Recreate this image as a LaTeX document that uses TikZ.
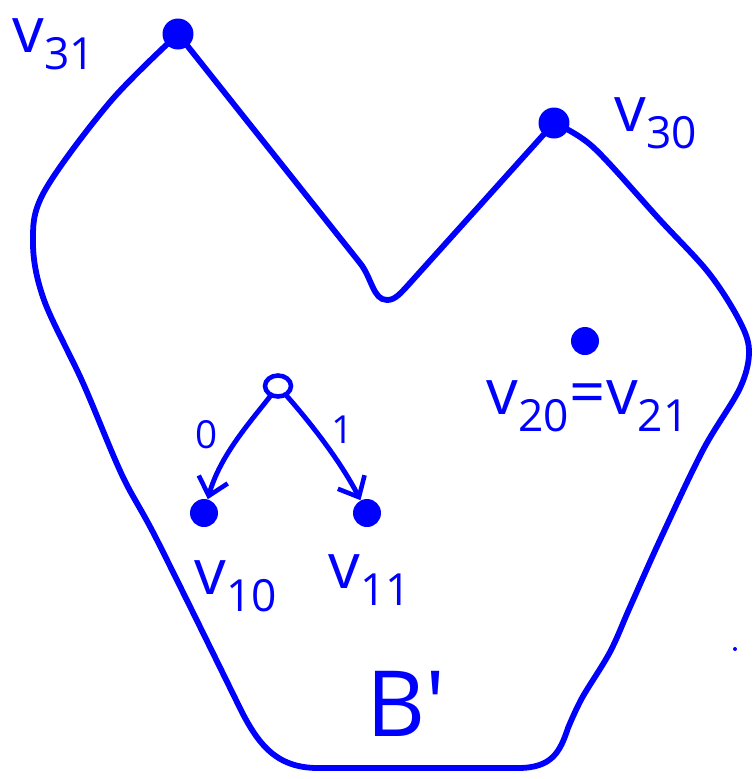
\documentclass[tikz,border=0pt]{standalone}
\usepackage{fontspec}
\setmainfont{Open Sans}
\usetikzlibrary{arrows.meta,shapes.geometric}
\definecolor{penblue}{HTML}{0000FF}
\tikzset{
  vtx/.style={circle,fill=penblue,inner sep=0pt,minimum size=5.6mm},
  bigvtx/.style={vtx,minimum size=6.2mm},
  root/.style={ellipse,draw=penblue,line width=2.6pt,inner sep=0pt,minimum width=5.2mm,minimum height=4.2mm},
  hull/.style={draw=penblue,line width=3.3pt,line join=round,line cap=round},
  branch/.style={-{Straight Barb[length=3.4mm,width=6mm,line width=2.6pt]},draw=penblue,line width=2.8pt,line cap=round},
  lbl/.style={text=penblue,font=\fontsize{36}{40}\selectfont,inner sep=0pt},
  bit/.style={text=penblue,font=\fontsize{22}{26}\selectfont,inner sep=0pt},
  speck/.style={circle,fill=penblue,inner sep=0pt,minimum size=.8mm},
}

\begin{document}
\begin{tikzpicture}[x=0.02cm,y=-0.02cm]
  \useasboundingbox (0,0) rectangle (752,779);
  \node[bigvtx] (v31) at (178,34) {};
  \node[bigvtx] (v30) at (554,123) {};
  \node[vtx] (v20) at (585,341) {};
  \node[root] (r) at (278,386) {};
  \node[vtx] (v10) at (204,513) {};
  \node[vtx] (v11) at (367,513) {};
  % boundary of B'
  \draw[hull] (v31.center) -- (360,263) .. controls (372,278) and (373,300) .. (387,300)
    .. controls (395,300) and (400,294) .. (410,283) -- (v30.center)
    -- plot[smooth,tension=.55] coordinates {(554,123) (593,147) (660,220) (708,272) (738,318)
      (749,350) (740,388) (703,450) (660,540) (630,607) (610,652) (582,698) (568,728)}
    .. controls (560,752) and (552,768) .. (518,768) -- (318,768)
    .. controls (274,768) and (256,742) .. (236,700)
    -- plot[smooth,tension=.55] coordinates {(236,700) (157,540) (122,475) (83,383)
      (44,300) (33,243) (44,192) (110,102) (178,34)} -- cycle;
  % the two branches
  \draw[branch] (r) .. controls (252,420) and (220,455) .. (v10);
  \draw[branch] (r) .. controls (308,420) and (340,460) .. (v11);
  \node[bit] (b0) at (207,435) {0};
  \node[bit] (b1) at (343,430) {1};
  \node[lbl] (t31) at (54,44) {v\textsubscript{31}};
  \node[lbl] (t30) at (656,123) {v\textsubscript{30}};
  \node[lbl] (t2) at (588,406) {v\textsubscript{20}=v\textsubscript{21}};
  \node[lbl] (t10) at (236,586) {v\textsubscript{10}};
  \node[lbl] (t11) at (370,580) {v\textsubscript{11}};
  \node[lbl,font=\fontsize{52}{56}\selectfont] (tb) at (406,704) {B\textquotesingle};
  \node[speck] (sp) at (735,649) {};
\end{tikzpicture}
\end{document}
